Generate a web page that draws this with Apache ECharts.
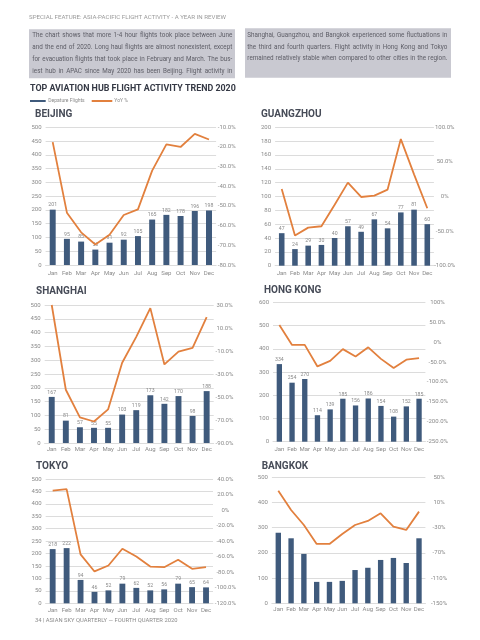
<!DOCTYPE html>
<html>
<head>
<meta charset="utf-8">
<script src="https://cdn.jsdelivr.net/npm/echarts@6/dist/echarts.min.js"></script>
<style>
html,body{margin:0;padding:0;background:#fff;}
#c{width:480px;height:640px;}
</style>
</head>
<body>
<div id="c"></div>
<script>
// ---------------- DATA ----------------
const months = ['Jan','Feb','Mar','Apr','May','Jun','Jul','Aug','Sep','Oct','Nov','Dec'];

const beijingFlights = [201,95,85,56,81,92,105,165,182,178,196,198];
const beijingYoy = [-17.5,-53.4,-63.4,-69.6,-64.6,-54.6,-51.7,-32.0,-18.7,-20.0,-13.3,-16.2];
const beijingYoyTicks = ['-10.0%','-20.0%','-30.0%','-40.0%','-50.0%','-60.0%','-70.0%','-80.0%'];

const guangzhouFlights = [47,24,29,30,40,57,49,67,54,77,81,60];
const guangzhouYoy = [11,-56.5,-45,-43,-12,20,-0.7,1.2,10,83,32,-17];
const guangzhouYoyTicks = ['100.0%','50.0%','0%','-50.0%','-100.0%'];

const shanghaiFlights = [167,81,57,55,55,103,119,173,142,170,98,188];
const shanghaiYoy = [30,-43.7,-67.7,-71.3,-60.8,-20.2,2.3,27.3,-21.7,-10.6,-7.3,19.5];
const shanghaiYoyTicks = ['30.0%','10.0%','-10.0%','-30.0%','-50.0%','-70.0%','-90.0%'];

const hongKongFlights = [334,254,270,114,139,185,156,186,154,108,152,185];
const hongKongYoy = [43,-7,-7,-61,-47,-17.5,-36,-13,-42,-65,-44,-40];
const hongKongYoyTicks = ['100%','50.0%','0%','-50.0%','-100.0%','-150.0%','-200.0%','-250.0%'];

const tokyoFlights = [218,222,94,46,52,79,62,52,56,79,65,64];
const tokyoYoy = [25,27,-57,-79,-71.4,-49.8,-59.8,-72.7,-73.5,-64,-75.6,-73.5];
const tokyoYoyTicks = ['40.0%','20.0%','0%','-20.0%','-40.0%','-60.0%','-80.0%','-100.0%','-120.0%'];

const bangkokFlights = [280,258,196,85,85,89,132,141,172,180,160,258];
const bangkokYoy = [28.8,-1.9,-25.7,-55.8,-55.8,-40,-25.7,-19.3,-7.1,-28.3,-33.6,-4.5];
const bangkokYoyTicks = ['50%','10%','-30%','-70%','-110%','-150%'];

const legendNames = ['Depature Flights','YoY %'];

const leftLines = [
  'The chart shows that more 1-4 hour flights took place between June',
  'and the end of 2020. Long haul flights are almost nonexistent, except',
  'for evacuation flights that took place in February and March. The bus-',
  'iest hub in APAC since May 2020 has been Beijing. Flight activity in'
];
const rightLines = [
  'Shanghai, Guangzhou, and Bangkok experienced some fluctuations in',
  'the third and fourth quarters. Flight activity in Hong Kong and Tokyo',
  'remained relatively stable when compared to other cities in the region.'
];

// ---------------- LAYOUT ----------------
const BAR = '#3f5a7c', LINE = '#e2803e', GRIDC = '#dcdcdc', AX = '#8a8a8a';
const FONT = 'Roboto';

const panels = [
  {title:'BEIJING', tx:35, ty:115.5, flights:beijingFlights, yoy:beijingYoy, ticks:beijingYoyTicks, lmax:500, lint:50, labels:true,
   grid:{left:45.6, top:127.3, width:170.5, height:137.7}, xm:5.5, rm:10.6},
  {title:'GUANGZHOU', tx:261, ty:115.5, flights:guangzhouFlights, yoy:guangzhouYoy, ticks:guangzhouYoyTicks, lmax:200, lint:20, labels:true,
   grid:{left:275.1, top:127.3, width:158.8, height:138.4}, xm:5, rm:10.8},
  {title:'SHANGHAI', tx:36, ty:292.5, flights:shanghaiFlights, yoy:shanghaiYoy, ticks:shanghaiYoyTicks, lmax:500, lint:50, labels:true,
   grid:{left:44.7, top:305, width:169, height:138}, xm:3.5, rm:10.8},
  {title:'HONG KONG', tx:264, ty:291, flights:hongKongFlights, yoy:hongKongYoy, ticks:hongKongYoyTicks, lmax:600, lint:100, labels:true,
   grid:{left:273, top:302.3, width:152.4, height:139.4}, xm:5, rm:12},
  {title:'TOKYO', tx:36, ty:467.5, flights:tokyoFlights, yoy:tokyoYoy, ticks:tokyoYoyTicks, lmax:500, lint:50, labels:true,
   grid:{left:45.7, top:479, width:167.3, height:124.3}, xm:3.7, rm:12.3},
  {title:'BANGKOK', tx:261.7, ty:467.5, flights:bangkokFlights, yoy:bangkokYoy, ticks:bangkokYoyTicks, lmax:500, lint:100, labels:false,
   grid:{left:271.9, top:477.3, width:153.5, height:126}, xm:3, rm:13.6}
];

const grids = [], xAxes = [], yAxes = [], series = [], graphics = [];

panels.forEach((p, i) => {
  grids.push(Object.assign({containLabel:false}, p.grid));
  xAxes.push({
    type:'category', gridIndex:i, data:months, boundaryGap:true,
    axisTick:{show:false}, axisLine:{lineStyle:{color:GRIDC, width:1}},
    axisLabel:{interval:0, fontSize:6, color:AX, fontFamily:FONT, margin:p.xm}
  });
  yAxes.push({
    type:'value', gridIndex:i, min:0, max:p.lmax, interval:p.lint, position:'left',
    axisLine:{show:false}, axisTick:{show:false},
    splitLine:{lineStyle:{color:GRIDC, width:1}},
    axisLabel:{fontSize:6, color:AX, fontFamily:FONT, margin:4}
  });
  const vals = p.ticks.map(s => parseFloat(s));
  const tk = p.ticks;
  yAxes.push({
    type:'value', gridIndex:i, position:'right',
    min:Math.min(...vals), max:Math.max(...vals), interval:10,
    axisLine:{show:false}, axisTick:{show:false}, splitLine:{show:false},
    axisLabel:{fontSize:6, color:AX, fontFamily:FONT, margin:p.rm, align:'center',
      formatter:(v) => { const t = tk.find(s => Math.abs(parseFloat(s) - v) < 1e-6); return t || ''; }}
  });
  series.push({
    type:'bar', name:legendNames[0], xAxisIndex:i, yAxisIndex:2*i, data:p.flights,
    barWidth:'42%', itemStyle:{color:BAR},
    label:{show:p.labels, position:'top', distance:2, fontSize:5.2, color:AX, fontFamily:FONT},
    silent:true, animation:false
  });
  series.push({
    type:'line', name:legendNames[1], xAxisIndex:i, yAxisIndex:2*i+1, data:p.yoy,
    symbol:'none', lineStyle:{color:LINE, width:1.8}, itemStyle:{color:LINE}, z:5,
    silent:true, animation:false
  });
  graphics.push({type:'text', left:p.tx, top:p.ty - 6, style:{text:p.title, font:'bold 10px ' + FONT, fill:'#474c58'}});
});

// header & text boxes
graphics.push({type:'text', left:29, top:14, style:{text:'SPECIAL FEATURE: ASIA-PACIFIC FLIGHT ACTIVITY - A YEAR IN REVIEW', font:'6.15px ' + FONT, fill:'#9a9a9a'}});
graphics.push({type:'rect', shape:{x:29, y:29.3, width:206, height:49}, style:{fill:'#c9c9d1'}});
graphics.push({type:'rect', shape:{x:245, y:28.3, width:206, height:49.4}, style:{fill:'#c9c9d1'}});

// justified paragraph lines
const BODY_FONT = '6.3px ' + FONT;
const mctx = document.createElement('canvas').getContext('2d');
mctx.font = BODY_FONT;
function addLine(text, x, y, w) {
  const words = text.split(' ');
  const widths = words.map(wd => mctx.measureText(wd).width);
  const total = widths.reduce((a, b) => a + b, 0);
  const gap = (w - total) / (words.length - 1);
  let cx = x;
  words.forEach((wd, k) => {
    graphics.push({type:'text', left:cx, top:y - 4, style:{text:wd, font:BODY_FONT, fill:'#5d5d66'}});
    cx += widths[k] + gap;
  });
}
leftLines.forEach((t, k) => addLine(t, 32.3, 36 + k*12.2, 200));
rightLines.forEach((t, k) => addLine(t, 247.3, 36.7 + k*11.5, 200));

// main title & legend
graphics.push({type:'text', left:30, top:84.5, style:{text:'TOP AVIATION HUB FLIGHT ACTIVITY TREND 2020', font:'bold 8.9px ' + FONT, fill:'#353945'}});
graphics.push({type:'rect', shape:{x:30, y:100, width:15.7, height:2}, style:{fill:BAR}});
graphics.push({type:'text', left:48.3, top:98, style:{text:legendNames[0], font:'5px ' + FONT, fill:AX}});
graphics.push({type:'rect', shape:{x:91.7, y:100, width:20.6, height:2}, style:{fill:LINE}});
graphics.push({type:'text', left:114.3, top:98, style:{text:legendNames[1], font:'5px ' + FONT, fill:AX}});

// footer
graphics.push({type:'text', left:35, top:618, style:{text:'34 | ASIAN SKY QUARTERLY \u2014 FOURTH QUARTER 2020', font:'5.8px ' + FONT, fill:'#8a8a8a'}});

const chart = echarts.init(document.getElementById('c'), null, {renderer:'canvas'});
chart.setOption({
  backgroundColor:'#ffffff',
  animation:false,
  grid:grids, xAxis:xAxes, yAxis:yAxes, series:series,
  graphic:{elements:graphics}
});
</script>
</body>
</html>
